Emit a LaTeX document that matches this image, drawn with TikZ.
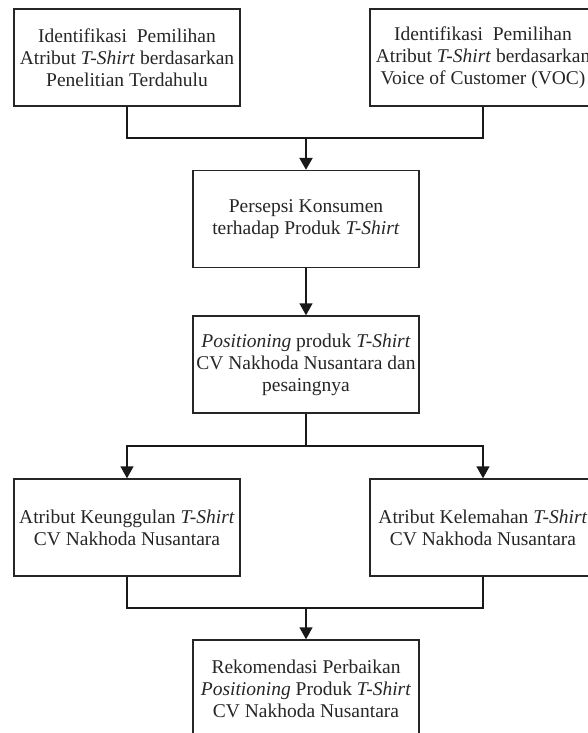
\documentclass[tikz,border=0pt]{standalone}
\usepackage{fontspec}
\setmainfont{Liberation Serif}
\usetikzlibrary{arrows.meta}
\begin{document}
\begin{tikzpicture}[x=1pt,y=-1pt,
  box/.style={draw=black!85,line width=1.4pt,minimum width=226pt,minimum height=97pt,
    align=center,inner sep=0pt,text=black!85,font=\fontsize{19.5}{22}\selectfont},
  conn/.style={draw=black!90,line width=1.4pt},
  arr/.style={conn,-{Triangle[width=13pt,length=12pt]}}]
\useasboundingbox (0,0) rectangle (587,733);
\node[box] (A) at (127,57.5) {Identifikasi\ \ Pemilihan\\Atribut \textit{T-Shirt} berdasarkan\\Penelitian Terdahulu};
\node[box] (B) at (483,57.5) {Identifikasi\ \ Pemilihan\\Atribut \textit{T-Shirt} berdasarkan\\Voice of Customer (VOC)};
\node[box] (C) at (306,219) {Persepsi Konsumen\\terhadap Produk \textit{T-Shirt}};
\node[box] (D) at (306,364.5) {\textit{Positioning} produk \textit{T-Shirt}\\CV Nakhoda Nusantara dan\\pesaingnya};
\node[box] (E) at (127,527.5) {Atribut Keunggulan \textit{T-Shirt}\\CV Nakhoda Nusantara};
\node[box] (F) at (483,527.5) {Atribut Kelemahan \textit{T-Shirt}\\CV Nakhoda Nusantara};
\node[box] (G) at (306,688.5) {Rekomendasi Perbaikan\\\textit{Positioning} Produk \textit{T-Shirt}\\CV Nakhoda Nusantara};
\coordinate (j1) at (306,138);
\coordinate (j2) at (306,446);
\coordinate (j3) at (306,608);
\draw[conn] (A.south) |- (j1) -| (B.south);
\draw[arr,line width=2.4pt] (j1) -- (C.north);
\draw[arr] (C.south) -- (D.north);
\draw[conn] (D.south) -- (j2);
\draw[arr] (j2) -| (E.north);
\draw[arr] (j2) -| (F.north);
\draw[conn] (E.south) |- (j3) -| (F.south);
\draw[arr] (j3) -- (G.north);
\end{tikzpicture}
\end{document}
